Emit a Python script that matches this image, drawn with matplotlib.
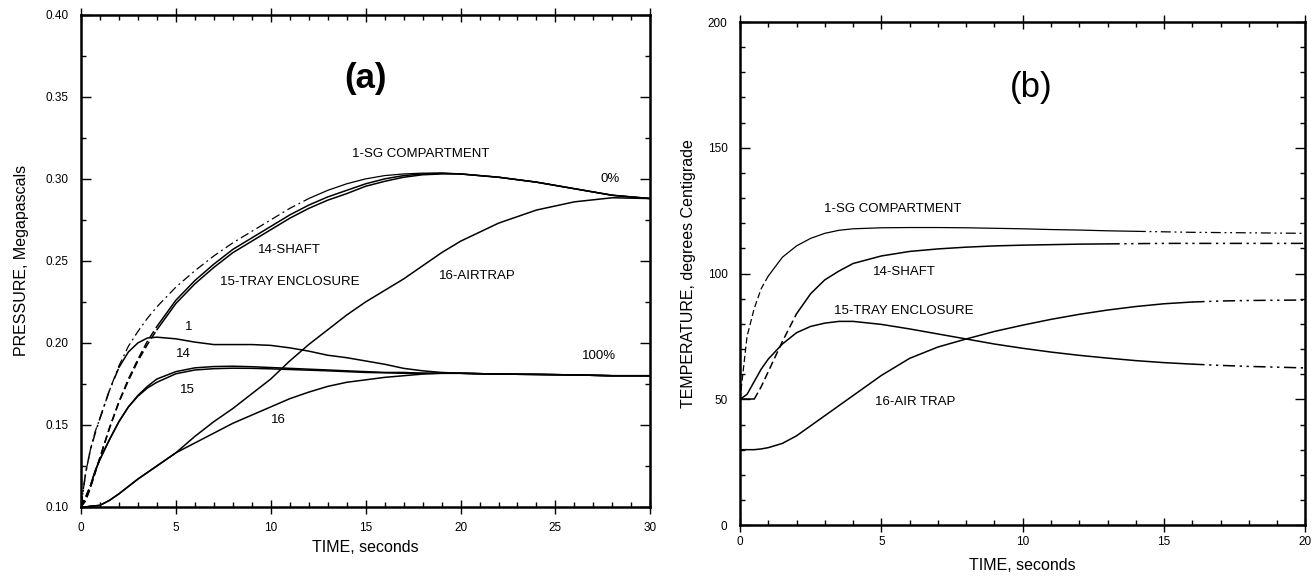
import matplotlib
matplotlib.use("Agg")
import matplotlib.pyplot as plt
import numpy as np
from matplotlib.ticker import MultipleLocator, FormatStrFormatter

plt.rcParams['font.family'] = ['Liberation Sans', 'DejaVu Sans']

# ---------------- Panel (a): pressure, MPa ----------------
t_a = [0, 0.25, 0.5, 0.75, 1, 1.5, 2, 2.5, 3, 3.5, 4, 5, 6, 7, 8, 9, 10, 11, 12,
       13, 14, 15, 16, 17, 18, 19, 20, 22, 24, 26, 28, 30]

# 0% group
p_sg1_0 = [0.100, 0.121, 0.135, 0.146, 0.154, 0.171, 0.186, 0.198, 0.207, 0.215, 0.222,
           0.234, 0.244, 0.253, 0.261, 0.268, 0.275, 0.282, 0.288, 0.293, 0.297,
           0.300, 0.302, 0.303, 0.3035, 0.3035, 0.303, 0.301, 0.298, 0.294, 0.290, 0.288]
p_shaft14_0 = [0.100, 0.104, 0.112, 0.121, 0.130, 0.148, 0.164, 0.178, 0.190, 0.201, 0.210,
               0.226, 0.238, 0.248, 0.257, 0.264, 0.271, 0.278, 0.284, 0.289, 0.293,
               0.297, 0.300, 0.302, 0.303, 0.3035, 0.303, 0.301, 0.298, 0.294, 0.290, 0.288]
p_tray15_0 = [0.100, 0.104, 0.112, 0.121, 0.130, 0.148, 0.164, 0.177, 0.189, 0.199, 0.208,
              0.224, 0.236, 0.246, 0.255, 0.262, 0.269, 0.276, 0.282, 0.287, 0.291,
              0.2955, 0.2985, 0.301, 0.3025, 0.303, 0.303, 0.301, 0.298, 0.294, 0.290, 0.288]
p_air16_0 = [0.100, 0.100, 0.1005, 0.1007, 0.101, 0.104, 0.108, 0.1125, 0.117, 0.121, 0.125,
             0.133, 0.143, 0.152, 0.160, 0.169, 0.178, 0.189, 0.199, 0.208, 0.217,
             0.225, 0.232, 0.239, 0.247, 0.255, 0.262, 0.273, 0.281, 0.286, 0.2885, 0.288]

# 100% group
p_sg1_100 = [0.100, 0.121, 0.135, 0.145, 0.154, 0.171, 0.185, 0.1945, 0.200, 0.203, 0.2035,
             0.2025, 0.2005, 0.199, 0.199, 0.1990, 0.1985, 0.197, 0.195, 0.1925, 0.191,
             0.189, 0.187, 0.1845, 0.183, 0.182, 0.1815, 0.181, 0.1808, 0.1805, 0.180, 0.180]
p_shaft14_100 = [0.100, 0.106, 0.113, 0.122, 0.129, 0.141, 0.152, 0.161, 0.168, 0.1735, 0.178,
                 0.1825, 0.1848, 0.1856, 0.1858, 0.1855, 0.185, 0.1845, 0.184, 0.1835, 0.183,
                 0.1825, 0.182, 0.182, 0.1815, 0.1815, 0.1815, 0.181, 0.1808, 0.1805, 0.180, 0.180]
p_tray15_100 = [0.100, 0.106, 0.113, 0.122, 0.129, 0.141, 0.152, 0.161, 0.1675, 0.1725, 0.176,
                0.1812, 0.1835, 0.1843, 0.1846, 0.1845, 0.1842, 0.1838, 0.1834, 0.183, 0.1825,
                0.182, 0.1818, 0.1815, 0.1815, 0.1815, 0.1815, 0.181, 0.1808, 0.1805, 0.180, 0.180]
p_air16_100 = [0.100, 0.100, 0.1005, 0.1007, 0.101, 0.104, 0.108, 0.1125, 0.117, 0.121, 0.125,
               0.133, 0.139, 0.145, 0.151, 0.156, 0.161, 0.166, 0.170, 0.1735, 0.176,
               0.1775, 0.179, 0.180, 0.181, 0.1815, 0.1815, 0.181, 0.1808, 0.1805, 0.180, 0.180]

# ---------------- Panel (b): temperature, deg C ----------------
t_b = [0, 0.25, 0.5, 0.75, 1, 1.5, 2, 2.5, 3, 3.5, 4, 5, 6, 7, 8, 9, 10, 11, 12,
       13, 14, 15, 16, 17, 18, 19, 20]
T_sg1 = [50, 75, 86, 94, 99, 106.5, 111, 114, 116, 117.2, 117.8, 118.2, 118.3, 118.3,
         118.2, 118.0, 117.8, 117.5, 117.3, 117.0, 116.8, 116.6, 116.4, 116.3, 116.2, 116.1, 116.0]
T_shaft14 = [50, 50, 50, 55, 61, 73, 84, 92, 97.5, 101, 104, 107, 108.8, 109.8, 110.5,
             111.0, 111.3, 111.5, 111.7, 111.8, 111.9, 112.0, 112.0, 112.0, 112.0, 112.0, 112.0]
T_tray15 = [50, 52, 57, 62, 66, 72, 76.5, 79, 80.3, 81, 81, 79.8, 78, 76, 74, 72, 70.3,
            68.8, 67.5, 66.4, 65.4, 64.6, 64.0, 63.5, 63.1, 62.8, 62.5]
T_air16 = [30, 30, 30, 30.3, 30.8, 32.5, 35.5, 39.5, 43.5, 47.5, 51.5, 59.5, 66.3, 70.8,
           74.0, 77.0, 79.5, 81.8, 83.8, 85.5, 86.9, 88.0, 88.7, 89.1, 89.3, 89.4, 89.5]

DASHDOT = (0, (7, 3, 1.5, 3))
DASH2DOT = (0, (8, 3, 1.5, 3, 1.5, 3))
DASHED = (0, (5, 2.5))
LW = 1.1


def plot_parts(ax, t, y, parts, lw=LW):
    t = np.asarray(t, float)
    y = np.asarray(y, float)
    for t0, t1, ls in parts:
        m = (t >= t0) & (t <= t1)
        ax.plot(t[m], y[m], color='black', lw=lw, ls=ls,
                solid_capstyle='round', solid_joinstyle='round')


def style_axes(ax, xpad):
    for s in ax.spines.values():
        s.set_linewidth(1.8)
    ax.tick_params(which='both', direction='in', top=True, right=True,
                   labelsize=8.5, width=1.0)
    ax.tick_params(which='major', length=7)
    ax.tick_params(which='minor', length=3.5)
    ax.tick_params(axis='x', which='major', direction='inout', length=10, pad=xpad)
    ax.tick_params(axis='y', which='major', pad=9)


fig = plt.figure(figsize=(13.12, 5.79), dpi=100)

# ----- (a) -----
ax1 = fig.add_axes([0.0617, 0.1244, 0.434, 0.850])
plot_parts(ax1, t_a, p_sg1_0, [(0, 12, DASHDOT), (12, 30, '-')], lw=0.9)
plot_parts(ax1, t_a, p_shaft14_0, [(0, 4, DASHED), (4, 30, '-')])
plot_parts(ax1, t_a, p_tray15_0, [(0, 4, DASHED), (4, 30, '-')])
plot_parts(ax1, t_a, p_air16_0, [(0, 30, '-')])
plot_parts(ax1, t_a, p_sg1_100, [(0, 2, DASHDOT), (2, 30, '-')])
plot_parts(ax1, t_a, p_shaft14_100, [(0, 0.5, DASHED), (0.5, 30, '-')])
plot_parts(ax1, t_a, p_tray15_100, [(0, 0.5, DASHED), (0.5, 30, '-')])
plot_parts(ax1, t_a, p_air16_100, [(0, 30, '-')])

ax1.set_xlim(0, 30)
ax1.set_ylim(0.10, 0.40)
ax1.xaxis.set_major_locator(MultipleLocator(5))
ax1.xaxis.set_minor_locator(MultipleLocator(1))
ax1.yaxis.set_major_locator(MultipleLocator(0.05))
ax1.yaxis.set_minor_locator(MultipleLocator(0.025))
ax1.yaxis.set_major_formatter(FormatStrFormatter('%.2f'))
style_axes(ax1, xpad=6)
ax1.set_xlabel('TIME, seconds', fontsize=11.5, labelpad=4)
ax1.set_ylabel('PRESSURE, Megapascals', fontsize=11.5, labelpad=12)

ax1.text(15.0, 0.361, '(a)', fontsize=25, fontweight='bold', ha='center', va='center')
lab = dict(fontsize=9.5, ha='center', va='center')
ax1.text(17.9, 0.315, '1-SG COMPARTMENT', **lab)
ax1.text(11.0, 0.2565, '14-SHAFT', **lab)
ax1.text(11.0, 0.237, '15-TRAY ENCLOSURE', **lab)
ax1.text(20.9, 0.241, '16-AIRTRAP', **lab)
ax1.text(27.9, 0.300, '0%', **lab)
ax1.text(27.3, 0.192, '100%', **lab)
ax1.text(5.7, 0.210, '1', **lab)
ax1.text(5.4, 0.193, '14', **lab)
ax1.text(5.6, 0.171, '15', **lab)
ax1.text(10.4, 0.153, '16', **lab)

# ----- (b) -----
ax2 = fig.add_axes([0.564, 0.093, 0.431, 0.869])
plot_parts(ax2, t_b, T_sg1, [(0, 1, DASHED), (1, 14, '-'), (14, 20, DASH2DOT)], lw=0.9)
plot_parts(ax2, t_b, T_shaft14, [(0, 0.5, '-'), (0.5, 2, DASHED), (2, 13, '-'), (13, 20, DASH2DOT)])
plot_parts(ax2, t_b, T_tray15, [(0, 16, '-'), (16, 20, DASH2DOT)])
plot_parts(ax2, t_b, T_air16, [(0, 16, '-'), (16, 20, DASH2DOT)])

ax2.set_xlim(0, 20)
ax2.set_ylim(0, 200)
ax2.xaxis.set_major_locator(MultipleLocator(5))
ax2.xaxis.set_minor_locator(MultipleLocator(1))
ax2.yaxis.set_major_locator(MultipleLocator(50))
ax2.yaxis.set_minor_locator(MultipleLocator(10))
style_axes(ax2, xpad=3)
ax2.set_xlabel('TIME, seconds', fontsize=11.5, labelpad=7)
ax2.set_ylabel('TEMPERATURE, degrees Centigrade', fontsize=11.5, labelpad=8)

ax2.text(10.3, 174, '(b)', fontsize=25, ha='center', va='center')
ax2.text(5.4, 125.5, '1-SG COMPARTMENT', **lab)
ax2.text(5.8, 100.5, '14-SHAFT', **lab)
ax2.text(5.8, 85, '15-TRAY ENCLOSURE', **lab)
ax2.text(6.2, 49, '16-AIR TRAP', **lab)

fig.savefig('out.png', dpi=100)
